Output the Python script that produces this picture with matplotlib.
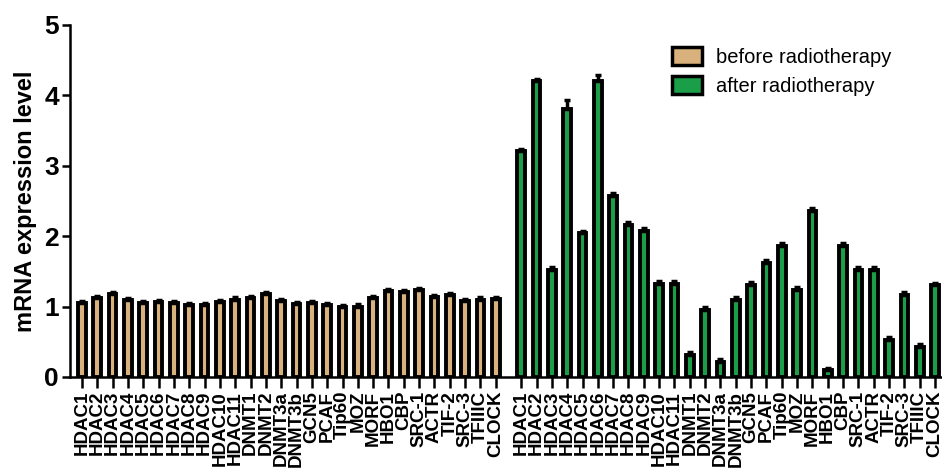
import matplotlib
matplotlib.use("Agg")
import matplotlib.pyplot as plt
import numpy as np
from matplotlib.patches import Patch

genes = ["HDAC1", "HDAC2", "HDAC3", "HDAC4", "HDAC5", "HDAC6", "HDAC7", "HDAC8",
         "HDAC9", "HDAC10", "HDAC11", "DNMT1", "DNMT2", "DNMT3a", "DNMT3b", "GCN5",
         "PCAF", "Tip60", "MOZ", "MORF", "HBO1", "CBP", "SRC-1", "ACTR", "TIF-2",
         "SRC-3", "TFIIIC", "CLOCK"]
before = [1.05, 1.12, 1.18, 1.09, 1.05, 1.06, 1.05, 1.02, 1.02, 1.07, 1.10, 1.12,
          1.18, 1.08, 1.04, 1.05, 1.02, 0.99, 1.00, 1.12, 1.22, 1.21, 1.23, 1.14,
          1.16, 1.08, 1.10, 1.11]
before_err = [0.03] * 28
after = [3.21, 4.20, 1.52, 3.80, 2.05, 4.21, 2.57, 2.16, 2.07, 1.32, 1.32, 0.31,
         0.95, 0.22, 1.10, 1.31, 1.62, 1.86, 1.24, 2.36, 0.10, 1.86, 1.52, 1.52,
         0.53, 1.17, 0.43, 1.30]
after_err = [0.03, 0.04, 0.04, 0.13, 0.03, 0.08, 0.04, 0.04, 0.04, 0.04, 0.04, 0.04,
             0.04, 0.04, 0.04, 0.04, 0.04, 0.04, 0.04, 0.04, 0.03, 0.04, 0.04, 0.04,
             0.04, 0.04, 0.04, 0.04]
series_labels = ["before radiotherapy", "after radiotherapy"]
yticks = [0, 1, 2, 3, 4, 5]

tan = "#D9B17C"
green = "#1B9E48"

plt.rcParams['font.family'] = ['Liberation Sans', 'DejaVu Sans']

fig = plt.figure(figsize=(9.42, 4.68), dpi=100)
ax = fig.add_axes([70 / 942, 1 - 377 / 468, (941 - 70) / 942, (377 - 25) / 468])

n = len(genes)
x1 = np.arange(n)
x2 = np.arange(n) + n + 0.66
w = 0.5
lw = 2.8
ax.bar(x1, before, width=w, color=tan, edgecolor="black", linewidth=lw, zorder=2)
ax.errorbar(x1, before, yerr=[[0] * n, before_err], fmt="none", ecolor="black",
            elinewidth=2.5, capsize=2.5, capthick=2.5, zorder=3)
ax.bar(x2, after, width=w, color=green, edgecolor="black", linewidth=lw, zorder=2)
ax.errorbar(x2, after, yerr=[[0] * n, after_err], fmt="none", ecolor="black",
            elinewidth=2.5, capsize=2.5, capthick=2.5, zorder=3)

ax.set_xlim(-0.78, x2[-1] + 0.39)
ax.set_ylim(0, 5)
ax.set_yticks(yticks)
ax.set_yticklabels([str(t) for t in yticks], fontsize=19, fontweight="bold")
ax.set_xticks(list(x1) + list(x2))
ax.set_xticklabels(genes + genes, rotation=90, fontsize=13.5, fontweight="bold",
                   va="top", ha="center")
ax.tick_params(axis="y", length=6, width=1.8, pad=2)
ax.tick_params(axis="x", length=8, width=1.8, pad=2)
for s in ["top", "right"]:
    ax.spines[s].set_visible(False)
for s in ["left", "bottom"]:
    ax.spines[s].set_linewidth(1.8)
ax.set_ylabel("mRNA expression level", fontsize=17, fontweight="bold", labelpad=5)

handles = [Patch(facecolor=tan, edgecolor="black", linewidth=2.5),
           Patch(facecolor=green, edgecolor="black", linewidth=2.5)]
ax.legend(handles, series_labels, loc="upper left", bbox_to_anchor=(0.67, 0.99),
          frameon=False, fontsize=14.5, handlelength=1.5, handleheight=1.0,
          handletextpad=0.7, labelspacing=0.45)

fig.savefig("out.png", dpi=100)
